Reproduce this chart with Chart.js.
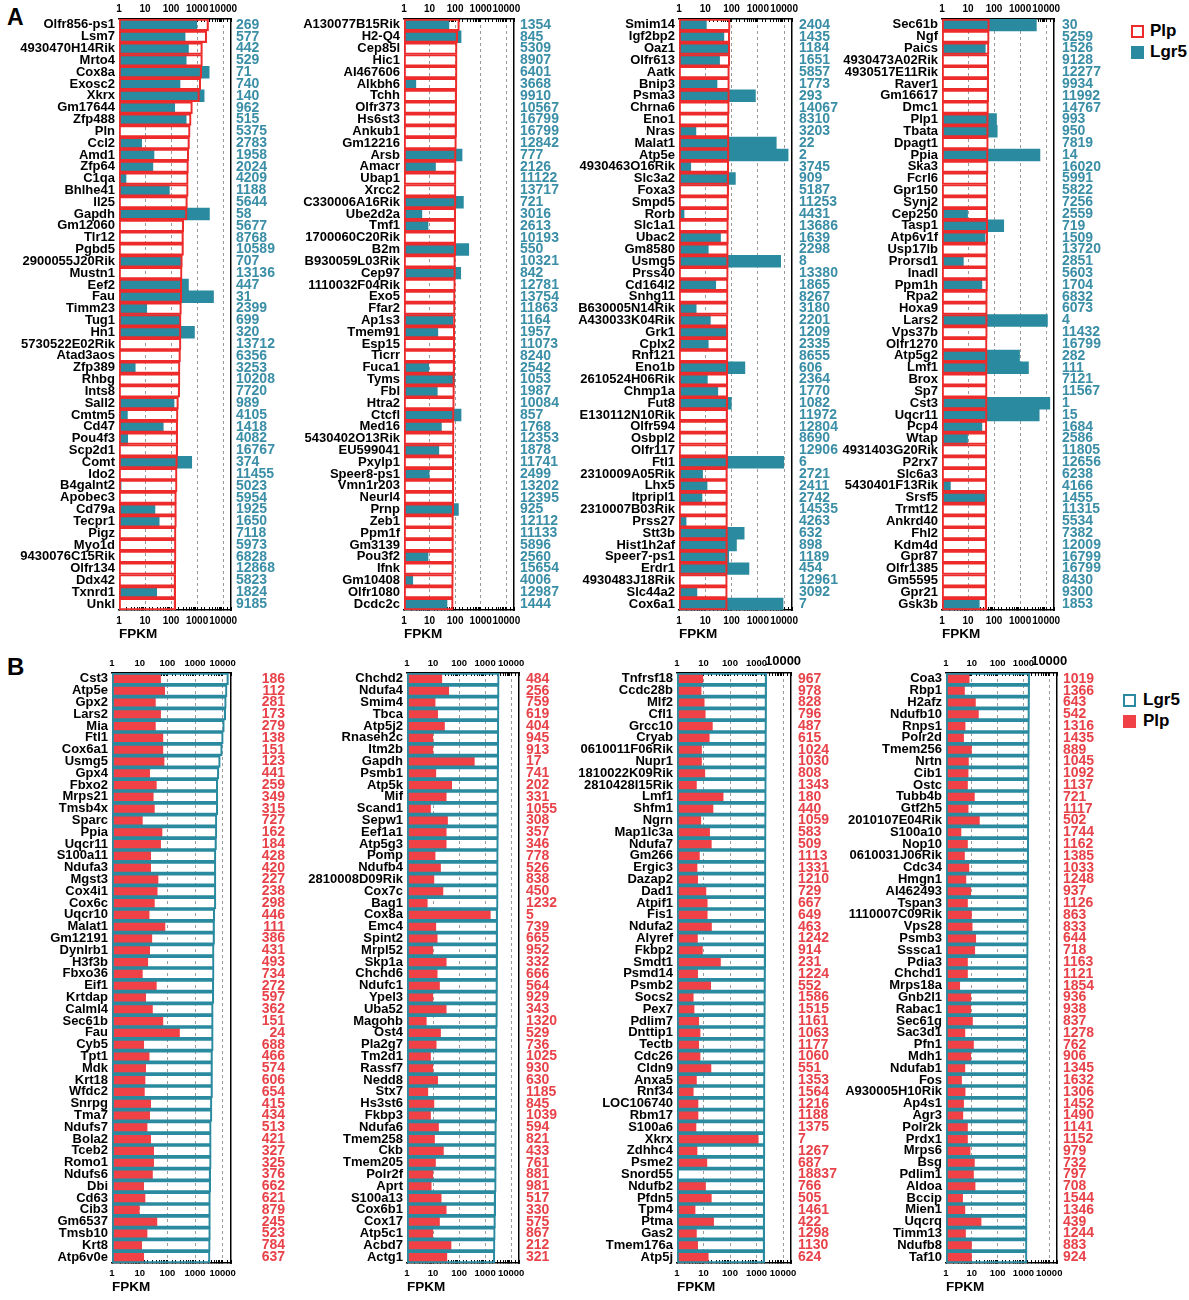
<!DOCTYPE html>
<html>
<head>
<meta charset="utf-8">
<script src="https://cdn.jsdelivr.net/npm/chart.js@4.4.1/dist/chart.umd.min.js"></script>
<style>
  html, body { margin:0; padding:0; background:#fff; }
  body { width:1189px; height:1300px; position:relative; overflow:hidden; font-family:"Liberation Sans", Arial, sans-serif; }
  canvas { position:absolute; }
  .lbl { position:absolute; font-weight:bold; color:#000; }
  .sq { position:absolute; box-sizing:border-box; }
</style>
</head>
<body>
<div class="lbl" style="left:7px;top:4px;font-size:23px;">A</div>
<div class="lbl" style="left:7px;top:653px;font-size:24px;">B</div>

<div class="sq" style="left:1131px;top:25px;width:13px;height:13px;border:2px solid #ee2b2b;background:#fff;"></div>
<div class="lbl" style="left:1150px;top:20px;font-size:17px;line-height:22px;">Plp</div>
<div class="sq" style="left:1131px;top:46px;width:13px;height:13px;background:#2a8a9f;"></div>
<div class="lbl" style="left:1150px;top:41px;font-size:17px;line-height:22px;">Lgr5</div>

<div class="sq" style="left:1123px;top:694px;width:13px;height:13px;border:2px solid #2a8a9f;background:#fff;"></div>
<div class="lbl" style="left:1143px;top:689px;font-size:17px;line-height:22px;">Lgr5</div>
<div class="sq" style="left:1123px;top:715px;width:13px;height:13px;background:#ef4146;"></div>
<div class="lbl" style="left:1143px;top:710px;font-size:17px;line-height:22px;">Plp</div>

<script>
// ---------------- DATA ----------------
const tickValues = [1, 10, 100, 1000, 10000];

// Panel A, column 1
const genesA1 = ["Olfr856-ps1","Lsm7","4930470H14Rik","Mrto4","Cox8a","Exosc2","Xkrx","Gm17644","Zfp488","Pln","Ccl2","Amd1","Zfp64","C1qa","Bhlhe41","Il25","Gapdh","Gm12060","Tlr12","Pgbd5","2900055J20Rik","Mustn1","Eef2","Fau","Timm23","Tug1","Hn1","5730522E02Rik","Atad3aos","Zfp389","Rhbg","Ints8","Sall2","Cmtm5","Cd47","Pou4f3","Scp2d1","Comt","Ido2","B4galnt2","Apobec3","Cd79a","Tecpr1","Pigz","Myo1d","9430076C15Rik","Olfr134","Ddx42","Txnrd1","Unkl"];
const plpA1 = [2750,2350,1600,1600,1500,1380,1230,660,590,540,510,480,465,455,455,425,410,307,300,300,272,265,258,258,250,242,242,240,230,220,220,215,192,185,180,180,180,175,170,170,160,160,160,155,155,155,150,150,150,150];
const lgr5A1 = [970,345,465,380,2900,220,1860,138,380,null,7.4,22,20,1.86,86,null,2970,null,null,null,242,null,465,4260,11.6,220,790,null,null,4.2,null,null,130,2.1,50,2.15,null,620,null,1.2,null,24,35,null,null,null,null,null,28,null];
const rankA1 = [269,577,442,529,71,740,140,962,515,5375,2783,1958,2024,4209,1188,5644,58,5677,8768,10589,707,13136,447,31,2399,699,320,13712,6356,3253,10208,7720,989,4105,1418,4082,16767,374,11455,5023,5954,1925,1650,7118,5973,6828,12868,5823,1824,9185];

// Panel A, column 2
const genesA2 = ["A130077B15Rik","H2-Q4","Cep85l","Hic1","AI467606","Alkbh6","Tchh","Olfr373","Hs6st3","Ankub1","Gm12216","Arsb","Amacr","Ubap1","Xrcc2","C330006A16Rik","Ube2d2a","Tmf1","1700060C20Rik","B2m","B930059L03Rik","Cep97","1110032F04Rik","Exo5","Ffar2","Ap1s3","Tmem91","Esp15","Ticrr","Fuca1","Tyms","Fbl","Htra2","Ctcfl","Med16","5430402O13Rik","EU599041","Pxylp1","Speer8-ps1","Vmn1r203","Neurl4","Prnp","Zeb1","Ppm1f","Gm3139","Pou3f2","Ifnk","Gm10408","Olfr1080","Dcdc2c"];
const plpA2 = [147,126,119,119,119,118,115,115,114,114,112,109,109,108,108,108,106,106,106,105,103,103,102,100,100,99,97,97,96,96,94,94,93,91,91,91,90,89,89,89,88,88,86,86,86,86,86,85,84,84];
const lgr5A2 = [57,170,1.1,null,null,2.9,null,null,null,null,null,186,17,null,null,210,5,8.7,null,340,null,165,null,null,null,81,21,null,null,9.3,95,20,null,170,29,null,23,null,9.6,null,null,134,null,null,null,8.7,null,2.2,null,48];
const rankA2 = [1354,845,5309,8907,6401,3668,9910,10567,16799,16799,12842,777,2126,11122,13717,721,3016,2613,10193,550,10321,842,12781,13754,11863,1164,1957,11073,8240,2542,1053,1987,10084,857,1768,12353,1878,11741,2499,13202,12395,925,12112,11133,5896,2560,15654,4006,12987,1444];

// Panel A, column 3
const genesA3 = ["Smim14","Igf2bp2","Oaz1","Olfr613","Aatk","Bnip3","Psma3","Chrna6","Eno1","Nras","Malat1","Atp5e","4930463O16Rik","Slc3a2","Foxa3","Smpd5","Rorb","Slc1a1","Ubac2","Gm8580","Usmg5","Prss40","Cd164l2","Snhg11","B630005N14Rik","A430033K04Rik","Grk1","Cplx2","Rnf121","Eno1b","2610524H06Rik","Chmp1a","Fut8","E130112N10Rik","Olfr594","Osbpl2","Olfr117","Ftl1","2310009A05Rik","Lhx5","Itpripl1","2310007B03Rik","Prss27","Stt3b","Hist1h2af","Speer7-ps1","Erdr1","4930483J18Rik","Slc44a2","Cox6a1"];
const plpA3 = [88,86,86,86,83,83,83,82,80,80,80,80,79,78,78,77,77,76,76,75,75,75,74,74,74,73,73,73,73,72,72,72,72,71,71,71,71,71,70,70,70,70,70,70,70,69,69,69,69,69];
const lgr5A3 = [11,51,85,35,null,28,810,null,null,4.4,5040,14200,2.8,140,1.1,null,1.56,null,38,13,7400,null,25,null,4.5,15.6,69,13,null,322,12,30,98,null,null,null,null,9700,7.9,11.7,7.5,null,1.86,302,154,78,460,null,4.8,9100];
const rankA3 = [2404,1435,1184,1651,5857,1773,293,14067,8310,3203,22,2,3745,909,5187,11253,4431,13686,1639,2298,8,13380,1865,8267,3180,2201,1209,2335,8655,606,2364,1770,1082,11972,12804,8690,12906,6,2721,2411,2742,14535,4263,632,898,1189,454,12961,3092,7];

// Panel A, column 4
const genesA4 = ["Sec61b","Ngf","Paics","4930473A02Rik","4930517E11Rik","Raver1","Gm16617","Dmc1","Plp1","Tbata","Dpagt1","Ppia","Ska3","Fcrl6","Gpr150","Synj2","Cep250","Tasp1","Atp6v1f","Usp17lb","Prorsd1","Inadl","Ppm1h","Rpa2","Hoxa9","Lars2","Vps37b","Olfr1270","Atp5g2","Lmf1","Brox","Sp7","Cst3","Uqcr11","Pcp4","Wtap","4931403G20Rik","P2rx7","Slc6a3","5430401F13Rik","Srsf5","Trmt12","Ankrd40","Fhl2","Kdm4d","Gpr87","Olfr1385","Gm5595","Gpr21","Gsk3b"];
const plpA4 = [66,65,64,63,63,62,62,61,60,60,60,59,59,58,58,58,57,57,57,56,56,56,56,55,55,55,55,54,54,54,54,54,54,54,53,53,53,53,53,53,52,52,52,52,52,52,52,52,52,52];
const lgr5A4 = [4200,1.09,46,null,null,null,null,null,124,132,null,5770,null,null,null,null,9.6,235,45,null,6.6,null,34,null,null,11200,null,null,950,2090,null,null,13800,5400,34,9.6,null,null,null,2.1,48,null,null,null,null,null,null,null,null,27];
const rankA4 = [30,5259,1526,9128,12277,9934,11992,14767,993,950,7819,14,16020,5991,5822,7256,2559,719,1509,13720,2851,5603,1704,6832,6073,4,11432,16799,282,111,7121,11567,1,15,1684,2586,11805,12656,6238,4166,1455,11315,5534,7382,12009,16799,16799,8430,9300,1853];

// Panel B, column 1
const genesB1 = ["Cst3","Atp5e","Gpx2","Lars2","Mia","Ftl1","Cox6a1","Usmg5","Gpx4","Fbxo2","Mrps21","Tmsb4x","Sparc","Ppia","Uqcr11","S100a11","Ndufa3","Mgst3","Cox4i1","Cox6c","Uqcr10","Malat1","Gm12191","Dynlrb1","H3f3b","Fbxo36","Eif1","Krtdap","Calml4","Sec61b","Fau","Cyb5","Tpt1","Mdk","Krt18","Wfdc2","Snrpg","Tma7","Ndufs7","Bola2","Tceb2","Romo1","Ndufs6","Dbi","Cd63","Cib3","Gm6537","Tmsb10","Krt8","Atp6v0e"];
const lgr5B1 = [16200,14400,13500,12900,11500,10500,9700,8200,7300,6700,6700,6700,6200,6200,6000,5700,5700,5700,5700,5700,5200,5100,5100,4900,4900,4900,4800,4800,4550,4550,4550,4550,4300,4300,4300,4300,4100,4100,3850,3850,3850,3850,3700,3700,3600,3600,3600,3600,3550,3500];
const plpB1 = [57,80,37,57,37,69,69,76,23,40,31,34,12.5,64,57,25,25,46,43,34,22,82,27.5,23,19.6,12.5,40,16.5,29,69,275,14,22,16.5,15.6,14.8,25,23,18.5,25,32,32,29,14,15.6,9.7,42,18.5,11.8,14];
const rankB1 = [186,112,281,173,279,138,151,123,441,259,349,315,727,162,184,428,420,227,238,298,446,111,386,431,493,734,272,597,362,151,24,688,466,574,606,654,415,434,513,421,327,325,376,662,621,879,245,523,784,637];

// Panel B, column 2
const genesB2 = ["Chchd2","Ndufa4","Smim4","Tbca","Atp5j2","Rnaseh2c","Itm2b","Gapdh","Psmb1","Atp5k","Mif","Scand1","Sepw1","Eef1a1","Atp5g3","Pomp","Ndufb4","2810008D09Rik","Cox7c","Bag1","Cox8a","Emc4","Spint2","Mrpl52","Skp1a","Chchd6","Ndufc1","Ypel3","Uba52","Magohb","Ost4","Pla2g7","Tm2d1","Rassf7","Nedd8","Stx7","Hs3st6","Fkbp3","Ndufa6","Tmem258","Ckb","Tmem205","Polr2f","Aprt","S100a13","Cox6b1","Cox17","Atp5c1","Acbd7","Actg1"];
const lgr5B2 = [3470,3450,3430,3420,3380,3360,3350,3330,3300,3290,3280,3270,3260,3250,3230,3200,3190,3180,3170,3160,3050,3050,3040,3030,3020,3010,3000,2990,2980,2970,2900,2890,2880,2870,2860,2850,2840,2830,2720,2710,2700,2690,2680,2670,2550,2540,2500,2450,2400,2370];
const plpB2 = [21.7,40,12,15,27.5,9.8,9.8,385,12.8,52,32,8,36,32,32,12,19.4,10.8,24,6,1580,12.8,14.4,9.8,32,14.4,17.7,9.8,32,5.5,19.4,13.2,8,9.8,15,6.3,10.8,8,16.2,11.4,25,12.4,9.8,8.5,20.5,32,17.7,9.8,49,34];
const rankB2 = [484,256,759,619,404,945,913,17,741,202,331,1055,308,357,346,778,526,838,450,1232,5,739,665,952,332,666,564,929,343,1320,529,736,1025,930,630,1185,845,1039,594,821,433,761,881,981,517,330,575,867,212,321];

// Panel B, column 3
const genesB3 = ["Tnfrsf18","Ccdc28b","Mlf2","Cfl1","Grcc10","Cryab","0610011F06Rik","Nupr1","1810022K09Rik","2810428I15Rik","Lmf1","Shfm1","Ngrn","Map1lc3a","Ndufa7","Gm266","Ergic3","Dazap2","Dad1","Atpif1","Fis1","Ndufa2","Alyref","Fkbp2","Smdt1","Psmd14","Psmb2","Socs2","Pex7","Pdlim7","Dnttip1","Tectb","Cdc26","Cldn9","Anxa5","Rnf34","LOC106740","Rbm17","S100a6","Xkrx","Zdhhc4","Psme2","Snord55","Ndufb2","Pfdn5","Tpm4","Ptma","Gas2","Tmem176a","Atp5j"];
const lgr5B3 = [2420,2410,2400,2400,2390,2380,2380,2370,2360,2350,2340,2330,2320,2310,2300,2290,2280,2280,2270,2260,2250,2240,2230,2220,2210,2200,2190,2180,2170,2160,2150,2140,2130,2120,2110,2100,2100,2090,2090,2080,2080,2070,2070,2060,2060,2050,2050,2040,2040,2030];
const plpB3 = [9.4,8.1,10.6,11.6,21.6,16.5,8.4,8.4,11.2,5.4,55,22.8,7.9,17,19.7,7,5.7,6,12.3,13.8,13.8,20,5.9,9.1,43.6,6,18.6,4.1,4.4,6.6,7.4,6.6,7.4,19.1,5.4,4.1,6.2,6.2,5.2,1160,5.7,13.4,null,11.9,19.7,4.8,24,5.4,6,15.1];
const rankB3 = [967,978,828,796,487,615,1024,1030,808,1343,180,440,1059,583,509,1113,1331,1210,729,667,649,463,1242,914,231,1224,552,1586,1515,1161,1063,1177,1060,551,1353,1564,1216,1188,1375,7,1267,687,18837,766,505,1461,422,1298,1130,624];

// Panel B, column 4
const genesB4 = ["Coa3","Rbp1","H2afz","Ndufb10","Rnps1","Polr2d","Tmem256","Nrtn","Cib1","Ostc","Tubb4b","Gtf2h5","2010107E04Rik","S100a10","Nop10","0610031J06Rik","Cdc34","Hmgn1","AI462493","Tspan3","1110007C09Rik","Vps28","Psmb3","Sssca1","Pdia3","Chchd1","Mrps18a","Gnb2l1","Rabac1","Sec61g","Sac3d1","Pfn1","Mdh1","Ndufab1","Fos","A930005H10Rik","Ap4s1","Agr3","Polr2k","Prdx1","Mrps6","Bsg","Pdlim1","Aldoa","Bccip","Mien1","Uqcrq","Timm13","Ndufb8","Taf10"];
const lgr5B4 = [1750,1740,1730,1720,1710,1700,1690,1680,1680,1670,1660,1650,1640,1630,1620,1610,1600,1590,1580,1570,1570,1560,1550,1540,1530,1520,1510,1500,1500,1490,1480,1470,1470,1460,1450,1450,1440,1430,1430,1420,1420,1410,1410,1400,1400,1390,1390,1390,1380,1380];
const plpB4 = [7.9,5.2,13.8,18,5.5,4.8,9.7,7.4,7.2,6.8,12.6,7.2,19.7,3.8,6.8,5.2,7.7,5.9,9.1,6.8,9.7,10.3,14.2,13,6.8,6.8,3.4,9.1,9.1,10.6,5.4,11.6,9.1,5.4,4,5.5,4.8,4.5,6.8,6.8,8.6,12.6,11.6,13.4,4.4,5.4,22.8,5.7,9.7,9.7];
const rankB4 = [1019,1366,643,542,1316,1435,889,1045,1092,1137,721,1117,502,1744,1162,1385,1033,1248,937,1126,863,833,644,718,1163,1121,1854,936,938,837,1278,762,906,1345,1632,1306,1452,1490,1141,1152,979,732,797,708,1544,1346,439,1244,883,924];

// ---------------- STYLE ----------------
const FONT = '"Liberation Sans", Arial, Helvetica, sans-serif';
const TEAL = '#2a8a9f';
const RED_LINE = '#ee2b2b';
const RED_FILL = '#ef4146';
const RANK_TEAL = '#3a8ea6';
const RANK_RED = '#e8424a';
const XMAX = 20000;
const LEFT_W = 110, RIGHT_W = 54, TOP_H = 18, BOT_H = 32;
const TICK_IN = -3;   // tick marks drawn inward

function makePanel(cfg) {
  const plotW = cfg.plotR - cfg.plotL;
  const plotH = cfg.plotB - cfg.plotT;
  const cv = document.createElement('canvas');
  const w = LEFT_W + plotW + RIGHT_W;
  const h = TOP_H + plotH + BOT_H;
  cv.width = w; cv.height = h;
  cv.style.left = (cfg.plotL - LEFT_W) + 'px';
  cv.style.top = (cfg.plotT - TOP_H) + 'px';
  cv.style.width = w + 'px'; cv.style.height = h + 'px';
  document.body.appendChild(cv);

  const common = { grouped: false, barPercentage: 1, categoryPercentage: 1 };
  let datasets;
  if (cfg.mode === 'A') {
    datasets = [
      Object.assign({ label: 'Plp', data: cfg.plp, backgroundColor: 'rgba(0,0,0,0)', borderColor: RED_LINE, borderWidth: 1.5, borderSkipped: false }, common),
      Object.assign({ label: 'Lgr5', data: cfg.lgr5, backgroundColor: TEAL, borderWidth: 0 }, common)
    ];
  } else {
    datasets = [
      Object.assign({ label: 'Lgr5', data: cfg.lgr5, backgroundColor: 'rgba(0,0,0,0)', borderColor: TEAL, borderWidth: 1.5, borderSkipped: false }, common),
      Object.assign({ label: 'Plp', data: cfg.plp, backgroundColor: RED_FILL, borderWidth: 0 }, common)
    ];
  }

  const tickCb = (v) => tickValues.includes(v) ? String(v) : '';
  const tickFont = { size: cfg.tickSize, weight: 'bold', family: FONT };
  const topTickFont = cfg.bigTop
    ? (c) => ({ size: (c.tick && c.tick.value === 10000) ? 13 : cfg.tickSize, weight: 'bold', family: FONT })
    : tickFont;

  new Chart(cv, {
    type: 'bar',
    data: { labels: cfg.genes, datasets: datasets },
    options: {
      indexAxis: 'y',
      responsive: false,
      maintainAspectRatio: false,
      animation: false,
      devicePixelRatio: 1,
      layout: { padding: 0 },
      plugins: { legend: { display: false }, tooltip: { enabled: false } },
      scales: {
        x: {
          type: 'logarithmic', position: 'bottom', min: 1, max: XMAX,
          afterFit: (s) => { s.height = BOT_H; },
          ticks: { autoSkip: false, maxRotation: 0, minRotation: 0, padding: 5 - TICK_IN, color: '#000', font: tickFont, callback: tickCb },
          grid: {
            color: (c) => (c.tick && [10, 100, 1000, 10000].includes(c.tick.value)) ? '#9a9a9a' : 'rgba(0,0,0,0)',
            lineWidth: 1, tickColor: '#000', tickLength: TICK_IN, tickWidth: 1
          },
          border: { display: true, color: '#000', width: 1.5, dash: [3, 3] },
          title: { display: true, text: 'FPKM', align: 'start', padding: 0, color: '#000', font: { size: 13.5, weight: 'bold', family: FONT } }
        },
        xT: {
          type: 'logarithmic', position: 'top', min: 1, max: XMAX,
          afterFit: (s) => { s.height = TOP_H; },
          ticks: { autoSkip: false, maxRotation: 0, minRotation: 0, padding: 4 - TICK_IN, color: '#000', font: topTickFont, callback: tickCb },
          grid: { drawOnChartArea: false, color: '#000', tickColor: '#000', tickLength: TICK_IN, tickWidth: 1 },
          border: { display: true, color: '#000', width: 1.5 }
        },
        y: {
          type: 'category', position: 'left',
          afterFit: (s) => { s.width = LEFT_W; },
          ticks: { autoSkip: false, padding: 4, color: '#000', font: { size: 13, weight: 'bold', family: FONT } },
          grid: { display: false, drawTicks: false },
          border: { display: false }
        },
        yR: {
          type: 'category', position: 'right', labels: cfg.ranks.map(String), offset: true,
          afterFit: (s) => { s.width = RIGHT_W; },
          ticks: { autoSkip: false, padding: cfg.rankPad, crossAlign: cfg.rankAlign, color: cfg.mode === 'A' ? RANK_TEAL : RANK_RED, font: { size: 14, weight: 'bold', family: FONT } },
          grid: { display: false, drawTicks: false },
          border: { display: true, color: '#000', width: 1.5 }
        }
      }
    }
  });
}

const A_T = 19, A_B = 610, B_T = 673, B_B = 1263;
makePanel({ mode: 'A', plotL: 119, plotR: 231, plotT: A_T, plotB: A_B, genes: genesA1, plp: plpA1, lgr5: lgr5A1, ranks: rankA1, rankAlign: 'near', rankPad: 5, tickSize: 10 });
makePanel({ mode: 'A', plotL: 404, plotR: 514, plotT: A_T, plotB: A_B, genes: genesA2, plp: plpA2, lgr5: lgr5A2, ranks: rankA2, rankAlign: 'near', rankPad: 6, tickSize: 10 });
makePanel({ mode: 'A', plotL: 679, plotR: 792, plotT: A_T, plotB: A_B, genes: genesA3, plp: plpA3, lgr5: lgr5A3, ranks: rankA3, rankAlign: 'near', rankPad: 7, tickSize: 10 });
makePanel({ mode: 'A', plotL: 942, plotR: 1054, plotT: A_T, plotB: A_B, genes: genesA4, plp: plpA4, lgr5: lgr5A4, ranks: rankA4, rankAlign: 'near', rankPad: 8, tickSize: 10 });
makePanel({ mode: 'B', plotL: 112, plotR: 231, plotT: B_T, plotB: B_B, genes: genesB1, plp: plpB1, lgr5: lgr5B1, ranks: rankB1, rankAlign: 'far', rankPad: 8, tickSize: 9.5 });
makePanel({ mode: 'B', plotL: 407, plotR: 519, plotT: B_T, plotB: B_B, genes: genesB2, plp: plpB2, lgr5: lgr5B2, ranks: rankB2, rankAlign: 'near', rankPad: 7, tickSize: 9.5 });
makePanel({ mode: 'B', plotL: 677, plotR: 791, plotT: B_T, plotB: B_B, genes: genesB3, plp: plpB3, lgr5: lgr5B3, ranks: rankB3, rankAlign: 'near', rankPad: 7, tickSize: 9.5, bigTop: true });
makePanel({ mode: 'B', plotL: 946, plotR: 1057, plotT: B_T, plotB: B_B, genes: genesB4, plp: plpB4, lgr5: lgr5B4, ranks: rankB4, rankAlign: 'near', rankPad: 6, tickSize: 9.5, bigTop: true });
</script>
</body>
</html>
